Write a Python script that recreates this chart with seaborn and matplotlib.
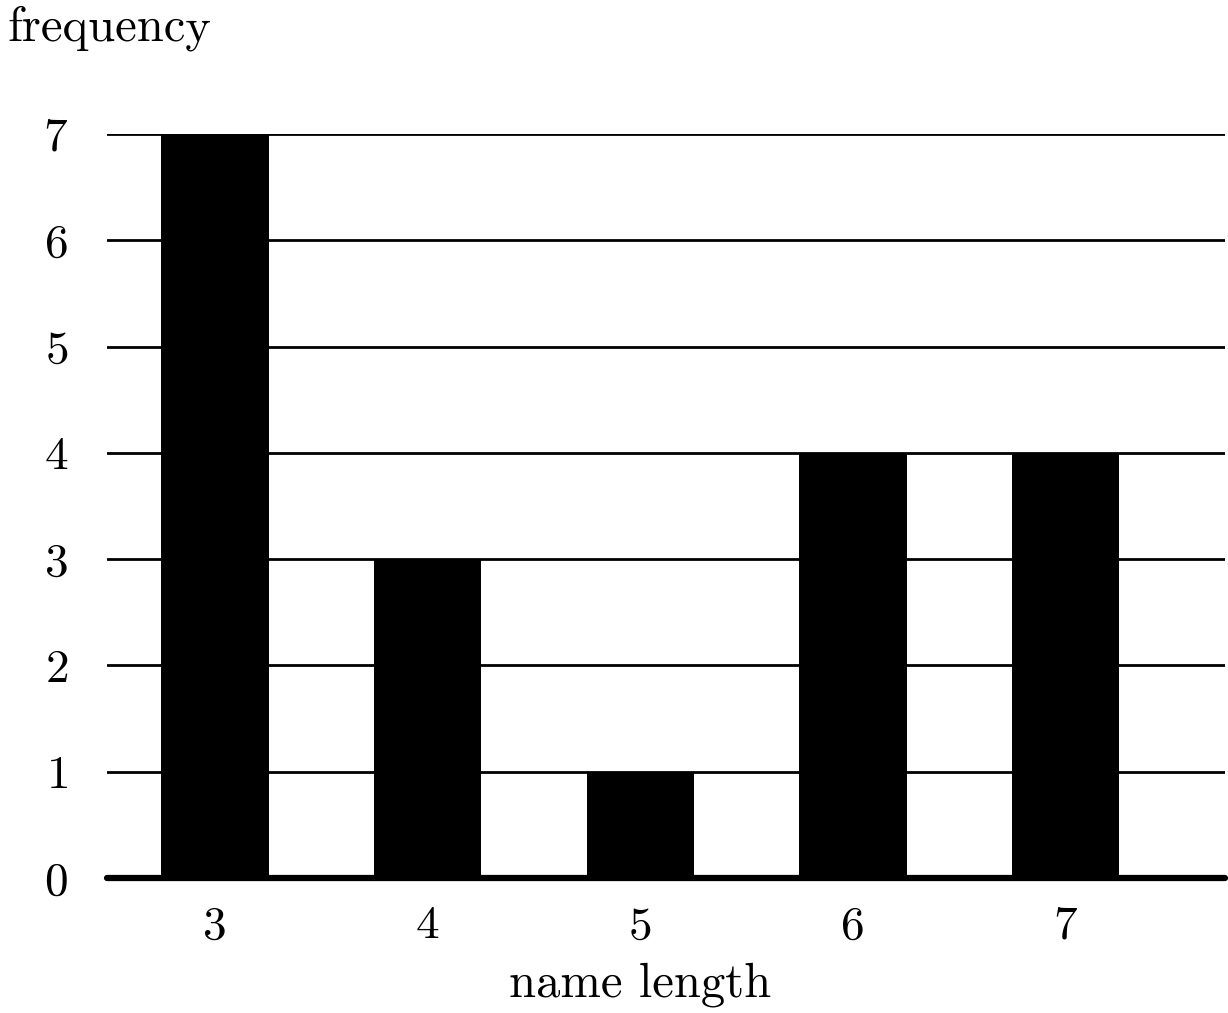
import matplotlib
matplotlib.use("Agg")
import matplotlib.pyplot as plt
import seaborn as sns
import pandas as pd

name_lengths = ["3", "4", "5", "6", "7"]
frequencies = [7, 3, 1, 4, 4]
y_ticks = [0, 1, 2, 3, 4, 5, 6, 7]

sns.set_style("white")
plt.rcParams["font.family"] = ["cmr10", "DejaVu Serif"]
plt.rcParams["axes.formatter.use_mathtext"] = True
plt.rcParams["text.color"] = "black"
plt.rcParams["xtick.color"] = "black"
plt.rcParams["ytick.color"] = "black"

df = pd.DataFrame({"name length": name_lengths, "frequency": frequencies})

fig = plt.figure(figsize=(12.28, 10.13), dpi=100)
ax = fig.add_axes([107 / 1228, 1 - 878 / 1013, (1225 - 107) / 1228, (878 - 134) / 1013])

sns.barplot(data=df, x="name length", y="frequency", color="black", saturation=1,
            width=0.505, ax=ax, zorder=3, edgecolor="black", linewidth=0)

ax.set_ylim(0, 7)
ax.set_xlim(-0.508, 4.75)
ax.set_yticks(y_ticks)
ax.yaxis.grid(True, color="black", linewidth=2)
ax.set_axisbelow(True)
for side in ["top", "right", "left"]:
    ax.spines[side].set_visible(False)
ax.spines["bottom"].set_linewidth(4.5)
ax.spines["bottom"].set_color("black")
ax.spines["bottom"].set_capstyle("round")
ax.spines["bottom"].set_zorder(5)
ax.tick_params(axis="both", length=0, labelsize=34)
ax.tick_params(axis="y", pad=28)
ax.tick_params(axis="x", pad=20)

ax.set_ylabel("")
ax.set_xlabel("")
# axis label sits under the middle category, as in the source
ax.text(2, -(985 - 878) / (878 - 134), "name length", transform=ax.get_xaxis_transform(),
        fontsize=35, ha="center", va="center", color="black")
fig.text(7 / 1228, 1 - 28 / 1013, "frequency", fontsize=35, va="center", ha="left")

fig.savefig("out.png", dpi=100)
